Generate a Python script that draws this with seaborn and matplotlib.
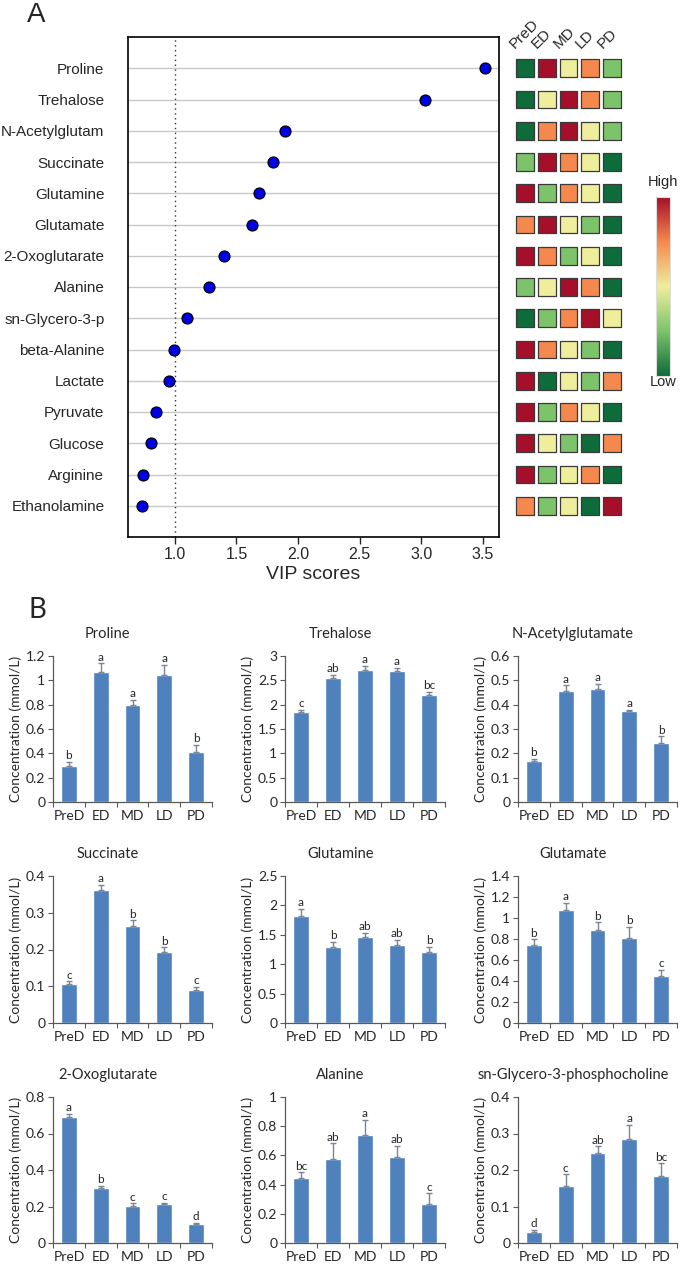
import numpy as np
import pandas as pd
import matplotlib
matplotlib.use('Agg')
import matplotlib.pyplot as plt
import seaborn as sb

sb.set_style('white')
plt.rcParams['font.family'] = ['Liberation Sans', 'DejaVu Sans']

# ---------------- data: panel A ----------------
metabolites = ['Proline', 'Trehalose', 'N-Acetylglutam', 'Succinate', 'Glutamine', 'Glutamate',
               '2-Oxoglutarate', 'Alanine', 'sn-Glycero-3-p', 'beta-Alanine', 'Lactate',
               'Pyruvate', 'Glucose', 'Arginine', 'Ethanolamine']
vip = [3.52, 3.03, 1.89, 1.80, 1.68, 1.63, 1.40, 1.28, 1.10, 0.99, 0.95, 0.85, 0.81, 0.74, 0.73]
vip_cutoff = 1.0
stages = ['PreD', 'ED', 'MD', 'LD', 'PD']
# relative level of each metabolite per stage, 1 = low (green) ... 5 = high (red)
heat_rank = [[1, 5, 3, 4, 2],
             [1, 3, 5, 4, 2],
             [1, 4, 5, 3, 2],
             [2, 5, 4, 3, 1],
             [5, 2, 4, 3, 1],
             [4, 5, 3, 2, 1],
             [5, 4, 2, 3, 1],
             [2, 3, 5, 4, 1],
             [1, 2, 4, 5, 3],
             [5, 4, 3, 2, 1],
             [5, 1, 3, 2, 4],
             [5, 2, 4, 3, 1],
             [5, 3, 2, 1, 4],
             [5, 2, 3, 4, 1],
             [4, 2, 3, 1, 5]]
level_colors = {1: '#0e6b3a', 2: '#7cc36a', 3: '#eeee9c', 4: '#f5894d', 5: '#a50f2a'}

# ---------------- data: panel B ----------------
bar_titles = ['Proline', 'Trehalose', 'N-Acetylglutamate', 'Succinate', 'Glutamine', 'Glutamate',
              '2-Oxoglutarate', 'Alanine', 'sn-Glycero-3-phosphocholine']
proline = [0.30, 1.07, 0.80, 1.04, 0.41]
proline_err = [0.03, 0.07, 0.04, 0.09, 0.06]
proline_sig = ['b', 'a', 'a', 'a', 'b']
trehalose = [1.84, 2.55, 2.72, 2.70, 2.19]
trehalose_err = [0.05, 0.06, 0.08, 0.06, 0.07]
trehalose_sig = ['c', 'ab', 'a', 'a', 'bc']
nag = [0.170, 0.455, 0.465, 0.372, 0.242]
nag_err = [0.008, 0.025, 0.020, 0.006, 0.028]
nag_sig = ['b', 'a', 'a', 'a', 'b']
succinate = [0.107, 0.361, 0.263, 0.193, 0.090]
succinate_err = [0.006, 0.015, 0.016, 0.013, 0.008]
succinate_sig = ['c', 'a', 'b', 'b', 'c']
glutamine = [1.82, 1.29, 1.47, 1.32, 1.20]
glutamine_err = [0.12, 0.09, 0.06, 0.09, 0.10]
glutamine_sig = ['a', 'b', 'ab', 'ab', 'b']
glutamate = [0.746, 1.08, 0.889, 0.81, 0.444]
glutamate_err = [0.05, 0.065, 0.07, 0.105, 0.065]
glutamate_sig = ['b', 'a', 'b', 'b', 'c']
oxoglutarate = [0.69, 0.302, 0.205, 0.213, 0.105]
oxoglutarate_err = [0.018, 0.010, 0.013, 0.006, 0.005]
oxoglutarate_sig = ['a', 'b', 'c', 'c', 'd']
alanine = [0.448, 0.573, 0.743, 0.59, 0.266]
alanine_err = [0.036, 0.11, 0.10, 0.077, 0.075]
alanine_sig = ['bc', 'ab', 'a', 'ab', 'c']
gpc = [0.031, 0.155, 0.246, 0.285, 0.183]
gpc_err = [0.005, 0.033, 0.019, 0.038, 0.035]
gpc_sig = ['d', 'c', 'ab', 'a', 'bc']
y_max = [1.2, 3, 0.6, 0.4, 2.5, 1.4, 0.8, 1.0, 0.4]
y_step = [0.2, 0.5, 0.1, 0.1, 0.5, 0.2, 0.2, 0.2, 0.1]

W, H = 680, 1268
fig = plt.figure(figsize=(W / 100, H / 100), dpi=100)

def box(x0, y0, x1, y1):
    # pixel box (top-left origin) -> figure fraction rect
    return [x0 / W, 1 - y1 / H, (x1 - x0) / W, (y1 - y0) / H]

# ---------------- panel A: VIP dot chart ----------------
axA = fig.add_axes(box(128, 37, 499, 537))
vip_df = pd.DataFrame({'metabolite': metabolites, 'vip': vip})
sb.scatterplot(data=vip_df, x='vip', y='metabolite', color='#0000e6', edgecolor='black',
               linewidth=0.9, s=62, zorder=3, ax=axA)
axA.axvline(vip_cutoff, color='#333333', ls=(0, (1, 2.5)), lw=1, zorder=2)
axA.set_ylim(len(metabolites), -1)
axA.set_xlim(0.62, 3.63)
axA.set_xticks([1.0, 1.5, 2.0, 2.5, 3.0, 3.5])
axA.set_xticklabels(['1.0', '1.5', '2.0', '2.5', '3.0', '3.5'], fontsize=11.5)
axA.yaxis.grid(True, color='#c8c8c8', lw=1)
axA.xaxis.grid(False)
axA.tick_params(axis='y', length=0, pad=17, labelsize=11)
axA.tick_params(axis='x', length=5, width=1, direction='out', pad=2, bottom=True)
axA.set_xlabel('VIP scores', fontsize=14, labelpad=3)
axA.set_ylabel('')
for s in axA.spines.values():
    s.set_color('black')
    s.set_linewidth(1.2)

# ---------------- heat map of relative levels ----------------
axH = fig.add_axes(box(514, 37, 623, 537))
heat_df = pd.DataFrame([(m, st, heat_rank[i][j]) for i, m in enumerate(metabolites)
                        for j, st in enumerate(stages)], columns=['metabolite', 'stage', 'rank'])
sb.scatterplot(data=heat_df, x='stage', y='metabolite', hue='rank', palette=level_colors,
               marker='s', s=165, edgecolor='#3a3a3a', linewidth=0.9, legend=False, ax=axH)
axH.set_ylim(len(metabolites), -1)
axH.set_xlim(-0.5, len(stages) - 0.5)
axH.axis('off')
for j, st in enumerate(stages):
    axH.text(j - 0.35, -0.55, st, rotation=45, rotation_mode='anchor', ha='left', va='bottom',
             fontsize=11)

# colour key
cax = fig.add_axes(box(656, 197, 670, 376))
cmap = matplotlib.colors.LinearSegmentedColormap.from_list(
    'lvl', [level_colors[k] for k in sorted(level_colors)])
cb = fig.colorbar(matplotlib.cm.ScalarMappable(cmap=cmap), cax=cax)
cb.set_ticks([])
cb.outline.set_edgecolor('#dddddd')
cb.outline.set_linewidth(0.8)
fig.text(663 / W, 1 - 182 / H, 'High', ha='center', va='center', fontsize=10.5)
fig.text(663 / W, 1 - 382 / H, 'Low', ha='center', va='center', fontsize=10.5)

fig.text(36 / W, 1 - 15 / H, 'A', ha='center', va='center', fontsize=20)

# ---------------- panel B: bar charts ----------------
fig.text(37 / W, 1 - 610 / H, 'B', ha='center', va='center', fontsize=20, family='Lato')

series = [(proline, proline_err, proline_sig), (trehalose, trehalose_err, trehalose_sig),
          (nag, nag_err, nag_sig), (succinate, succinate_err, succinate_sig),
          (glutamine, glutamine_err, glutamine_sig), (glutamate, glutamate_err, glutamate_sig),
          (oxoglutarate, oxoglutarate_err, oxoglutarate_sig), (alanine, alanine_err, alanine_sig),
          (gpc, gpc_err, gpc_sig)]
col_x = [(53, 212), (285, 445), (518, 677)]
row_y = [(656, 802), (876, 1023), (1097, 1243)]

for k, (vals, errs, sig) in enumerate(series):
    r, c = divmod(k, 3)
    ax = fig.add_axes(box(col_x[c][0], row_y[r][0], col_x[c][1], row_y[r][1]))
    d = pd.DataFrame({'stage': stages, 'conc': vals})
    sb.barplot(data=d, x='stage', y='conc', color='#4f81bd', saturation=1, width=0.5,
               errorbar=None, ax=ax)
    ax.errorbar(np.arange(len(stages)), vals, yerr=[np.zeros(len(vals)), errs], fmt='none',
                ecolor='#7a8595', elinewidth=1, capsize=2.2, capthick=1)
    for i, (v, e, lab) in enumerate(zip(vals, errs, sig)):
        ax.annotate(lab, (i, v + e), xytext=(0, 0.5), textcoords='offset points',
                    ha='center', va='bottom', fontsize=8.5, family='Lato')
    ax.set_xlim(-0.5, len(stages) - 0.5)
    ax.set_ylim(0, y_max[k])
    ticks = np.round(np.arange(0, y_max[k] + y_step[k] / 2, y_step[k]), 2)
    ax.set_yticks(ticks)
    ax.set_yticklabels(['{:g}'.format(t) for t in ticks], fontsize=10, family='Lato')
    ax.set_xticks(range(len(stages)))
    ax.set_xticklabels(stages, fontsize=10, family='Lato')
    ax.set_xticks(np.arange(-0.5, len(stages)), minor=True)
    ax.tick_params(axis='x', which='major', length=0, pad=6)
    ax.tick_params(axis='x', which='minor', length=3.5, width=0.8, color='#595959', direction='out',
                   bottom=True)
    ax.tick_params(axis='y', length=3.5, width=0.8, color='#595959', direction='out', left=True,
                   pad=2)
    ax.set_xlabel('')
    ax.set_ylabel('Concentration (mmol/L)', fontsize=10, family='Lato', labelpad=3)
    # Excel-style title centred over the whole chart area, not the plot area
    ax.set_title(bar_titles[k], fontsize=10.5, family='Lato', pad=13, x=0.345)
    sb.despine(ax=ax)
    for s in ['left', 'bottom']:
        ax.spines[s].set_color('#595959')
        ax.spines[s].set_linewidth(0.9)

fig.savefig('out.png', dpi=100)
